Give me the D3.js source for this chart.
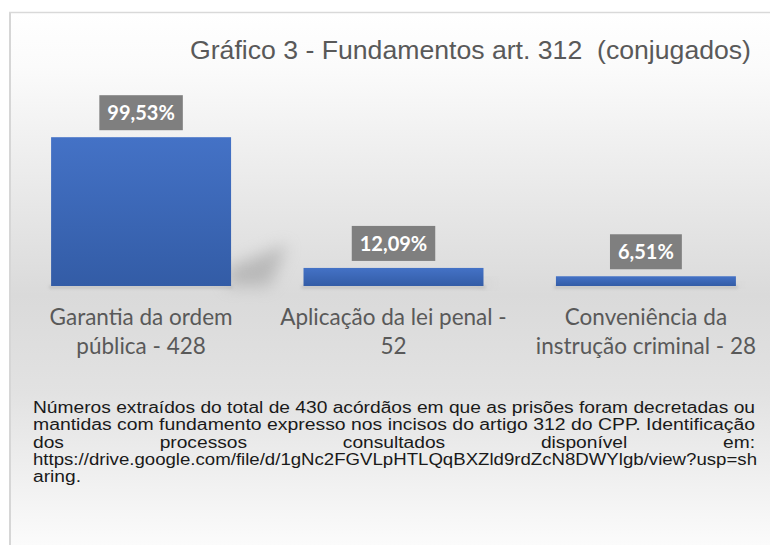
<!DOCTYPE html>
<html><head><meta charset="utf-8">
<script src="https://cdn.jsdelivr.net/npm/d3@7"></script>
<style>html,body{margin:0;padding:0;background:#fff;}svg{display:block;}</style>
</head><body>
<svg id="chart" width="770" height="545"></svg>
<script>
const categories = [["Garantia da ordem", "pública - 428"], ["Aplicação da lei penal -", "52"], ["Conveniência da", "instrução criminal - 28"]];
const values = [99.53, 12.09, 6.51];
const valueLabels = ["99,53%", "12,09%", "6,51%"];
const title = "Gráfico 3 - Fundamentos art. 312  (conjugados)";
const noteLines = [
  "Números extraídos do total de 430 acórdãos em que as prisões foram decretadas ou",
  "mantidas com fundamento expresso nos incisos do artigo 312 do CPP. Identificação",
  "dos processos consultados disponível em:",
  "https://drive.google.com/file/d/1gNc2FGVLpHTLQqBXZld9rdZcN8DWYlgb/view?usp=sh",
  "aring."
];

const svg = d3.select("#chart");
const defs = svg.append("defs");

const bg = defs.append("linearGradient").attr("id","bg").attr("x1",0).attr("y1",0).attr("x2",0).attr("y2",1);
bg.append("stop").attr("offset","0%").attr("stop-color","#ffffff");
bg.append("stop").attr("offset","10%").attr("stop-color","#fbfbfb");
bg.append("stop").attr("offset","52%").attr("stop-color","#dadada");
bg.append("stop").attr("offset","70%").attr("stop-color","#e2e2e2");
bg.append("stop").attr("offset","100%").attr("stop-color","#fdfdfd");

const barG = defs.append("linearGradient").attr("id","barg").attr("x1",0).attr("y1",0).attr("x2",0).attr("y2",1);
barG.append("stop").attr("offset","0%").attr("stop-color","#4472c6");
barG.append("stop").attr("offset","100%").attr("stop-color","#335ca6");

const blur = defs.append("filter").attr("id","blur").attr("x","-80%").attr("y","-80%").attr("width","260%").attr("height","260%");
blur.append("feGaussianBlur").attr("stdDeviation",8);
const blur2 = defs.append("filter").attr("id","blur2").attr("x","-20%").attr("y","-200%").attr("width","140%").attr("height","500%");
blur2.append("feGaussianBlur").attr("stdDeviation",1.5);

// background + border
svg.append("rect").attr("x",10).attr("y",12).attr("width",770).attr("height",545).attr("fill","url(#bg)");
svg.append("line").attr("x1",10).attr("x2",10).attr("y1",12).attr("y2",545).attr("stroke","#d6d6d6").attr("stroke-width",2);
svg.append("line").attr("x1",9).attr("x2",770).attr("y1",12.5).attr("y2",12.5).attr("stroke","#d9d9d9").attr("stroke-width",1.5);

// title
svg.append("text").attr("x",190).attr("y",59)
  .attr("font-family","Liberation Sans, Arial, sans-serif").attr("font-size",26)
  .attr("fill","#595959").style("white-space","pre")
  .attr("textLength",561).attr("lengthAdjust","spacingAndGlyphs")
  .text(title);

// scales
const x = d3.scaleBand().domain(d3.range(values.length)).range([15,772]).paddingInner(0.287).paddingOuter(0.143);
const y = d3.scaleLinear().domain([0,100]).range([286,136.5]);

const g = svg.append("g");

// shadows
g.selectAll(".shadow").data(values).join("path").attr("class","shadow")
  .attr("d",(d,i)=>{
    const x1 = x(i)+x.bandwidth(), y0 = y(0), h = y(0)-y(d);
    return `M${x1-4},${y0} L${x1-4},${y0-h*0.12} L${x1+h*0.38},${y0-h*0.28} L${x1+h*0.26},${y0} Z`;
  })
  .attr("fill","#a0a0a0").attr("opacity",0.6).attr("filter","url(#blur)");
g.selectAll(".floor").data(values).join("rect").attr("class","floor")
  .attr("x",(d,i)=>x(i)-2).attr("y",y(0)-1).attr("width",x.bandwidth()+4).attr("height",4)
  .attr("fill","#b8b8b8").attr("opacity",0.6).attr("filter","url(#blur2)");

// bars
g.selectAll(".bar").data(values).join("rect").attr("class","bar")
  .attr("x",(d,i)=>x(i)).attr("y",d=>y(d)).attr("width",x.bandwidth()).attr("height",d=>y(0)-y(d))
  .attr("fill","url(#barg)");

// value labels
const lab = g.selectAll(".lab").data(values).join("g").attr("class","lab");
lab.each(function(d,i){
  const gg = d3.select(this);
  const cx = x(i)+x.bandwidth()/2;
  const t = gg.append("text").attr("x",cx).attr("y",y(d)-17)
    .attr("text-anchor","middle").attr("font-family","Lato, sans-serif").attr("font-weight","bold")
    .attr("font-size",20).attr("fill","#ffffff").text(valueLabels[i]);
  const w = t.node().getComputedTextLength();
  gg.insert("rect","text").attr("x",cx-w/2-8).attr("y",y(d)-42).attr("width",w+16).attr("height",35).attr("fill","#7f7f7f");
});

// category labels
const cat = g.selectAll(".cat").data(categories).join("text").attr("class","cat")
  .attr("text-anchor","middle").attr("font-family","Lato, sans-serif").attr("font-size",22.5).attr("fill","#595959");
cat.each(function(d,i){
  const t = d3.select(this);
  d.forEach((line,j)=>{
    t.append("tspan").attr("x",x(i)+x.bandwidth()/2).attr("y",325+j*29).text(line);
  });
});

// footnote
const nx0 = 33, nx1 = 755, ny0 = 413, nlh = 17.3;
const fnote = svg.append("g").attr("font-family","Liberation Sans, Arial, sans-serif").attr("font-size",16).attr("fill","#1a1a1a");
const measure = s => { const t = fnote.append("text").attr("x",0).attr("y",-100).text(s); const w = t.node().getComputedTextLength(); t.remove(); return w; };
const k = (nx1-nx0)/measure(noteLines[0]);
noteLines.forEach((line,i)=>{
  const yy = ny0 + i*nlh;
  if (i===2) {
    const words = line.split(" ");
    const widths = words.map(w=>measure(w)*k);
    const gap = (nx1-nx0-d3.sum(widths))/(words.length-1);
    let cx = nx0;
    words.forEach((w,j)=>{
      fnote.append("text").attr("x",cx).attr("y",yy).attr("textLength",widths[j]).attr("lengthAdjust","spacingAndGlyphs").text(w);
      cx += widths[j]+gap;
    });
  } else if (i===4) {
    fnote.append("text").attr("x",nx0).attr("y",yy).attr("textLength",measure(line)*k).attr("lengthAdjust","spacingAndGlyphs").text(line);
  } else {
    fnote.append("text").attr("x",nx0).attr("y",yy).attr("textLength",(i===3?757:nx1)-nx0).attr("lengthAdjust","spacingAndGlyphs").text(line);
  }
});
</script>
</body></html>
